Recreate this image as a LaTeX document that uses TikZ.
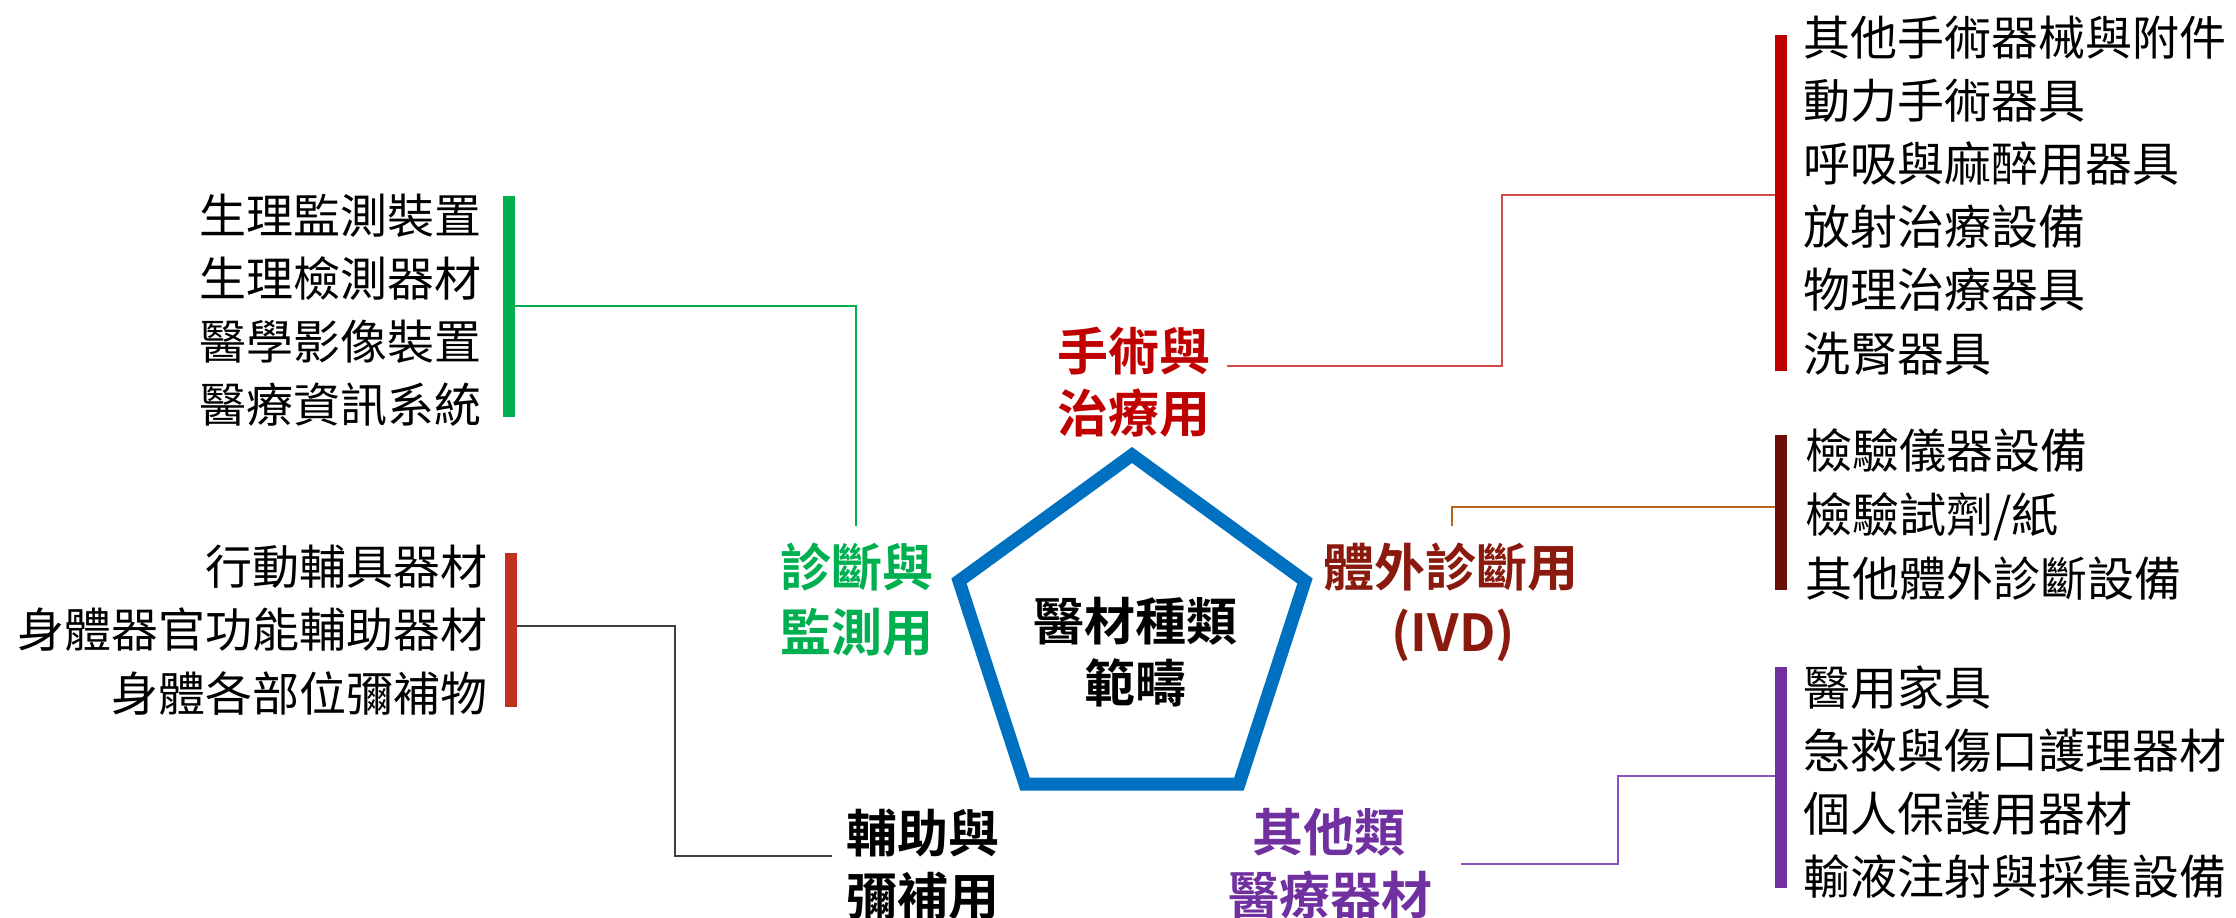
\documentclass[tikz,border=0pt]{standalone}
\usepackage{fontspec}
\setmainfont{Noto Sans CJK TC}[BoldFont={Noto Sans CJK TC Bold}]
\definecolor{pblue}{HTML}{0070C0}
\definecolor{cred}{HTML}{C00000}
\definecolor{credline}{HTML}{D24B4B}
\definecolor{civd}{HTML}{8B1A0E}
\definecolor{civdbar}{HTML}{6A0F08}
\definecolor{civdline}{HTML}{B8651A}
\definecolor{cgreen}{HTML}{00B050}
\definecolor{cpurple}{HTML}{7030A0}
\definecolor{cpline}{HTML}{8A4FC0}
\definecolor{cassist}{HTML}{C0311F}
\definecolor{cgray}{HTML}{404040}
\tikzset{
  itemtext/.style={font=\fontsize{47}{47}\selectfont, inner sep=0pt},
  cattext/.style={font=\bfseries\fontsize{51}{51}\selectfont, inner sep=0pt, anchor=base},
  barline/.style={line width=12.5pt, line cap=butt},
  connline/.style={line width=1.7pt},
}
\begin{document}
\begin{tikzpicture}[x=1pt,y=-1pt]
\useasboundingbox (0,0) rectangle (2236,918);
% pentagon
\draw[pblue, line width=13pt, line join=miter] (1132,455) -- (1305,581) -- (1239,784) -- (1025,784) -- (959,581) -- cycle;
\node[cattext, black] (core1) at (1135,640.5) {醫材種類};
\node[cattext, black] (core2) at (1135,702.5) {範疇};
% categories
\node[cattext, cred] (surg1) at (1134,370.4) {手術與};
\node[cattext, cred] (surg2) at (1134,432.4) {治療用};
\node[cattext, civd] (ivd1) at (1451,586.4) {體外診斷用};
\node[cattext, civd] (ivd2) at (1453,651) {(IVD)};
\node[cattext, cgreen] (diag1) at (857,586.4) {診斷與};
\node[cattext, cgreen] (diag2) at (857,651.4) {監測用};
\node[cattext, black] (assist1) at (923,852.4) {輔助與};
\node[cattext, black] (assist2) at (923,915.4) {彌補用};
\node[cattext, cpurple] (other1) at (1329,851.4) {其他類};
\node[cattext, cpurple] (other2) at (1330,914.4) {醫療器材};
% lists
\foreach \t [count=\i] in {其他手術器械與附件,動力手術器具,呼吸與麻醉用器具,放射治療設備,物理治療器具,洗腎器具}
  \node[itemtext, anchor=base west] (surgitem\i) at (1803,{37+63.2*(\i-1)+18}) {\t};
\foreach \t [count=\i] in {檢驗儀器設備,檢驗試劑/紙,其他體外診斷設備}
  \node[itemtext, anchor=base west] (ivditem\i) at (1805,{450+64*(\i-1)+18}) {\t};
\foreach \t [count=\i] in {醫用家具,急救與傷口護理器材,個人保護用器材,輸液注射與採集設備}
  \node[itemtext, anchor=base west] (otheritem\i) at (1803,{687+63.3*(\i-1)+18}) {\t};
\foreach \t [count=\i] in {生理監測裝置,生理檢測器材,醫學影像裝置,醫療資訊系統}
  \node[itemtext, anchor=base east] (diagitem\i) at (482,{215+63*(\i-1)+18}) {\t};
\foreach \t [count=\i] in {行動輔具器材,身體器官功能輔助器材,身體各部位彌補物}
  \node[itemtext, anchor=base east] (assistitem\i) at (488,{566+63.5*(\i-1)+18}) {\t};
% coordinates
\coordinate (surgC) at (1227,366);
\coordinate (surgB) at (1781,195);
\coordinate (ivdC) at (1452,526);
\coordinate (ivdB) at (1781,507);
\coordinate (otherC) at (1461,864);
\coordinate (otherB) at (1781,776);
\coordinate (diagC) at (856,526);
\coordinate (diagB) at (509,306);
\coordinate (assistC) at (832,856);
\coordinate (assistB) at (511,626);
% connectors
\draw[connline, credline] (surgC) -- (1502,366) -- (1502,195) -- (surgB);
\draw[connline, civdline] (ivdC) -- (1452,507) -- (ivdB);
\draw[connline, cpline] (otherC) -- (1618,864) -- (1618,776) -- (otherB);
\draw[connline, cgreen] (diagC) -- (856,306) -- (diagB);
\draw[connline, cgray] (assistC) -- (675,856) -- (675,626) -- (assistB);
% bars
\coordinate (surgBt) at (1781,35);  \coordinate (surgBb) at (1781,371);
\coordinate (ivdBt) at (1781,435);  \coordinate (ivdBb) at (1781,590);
\coordinate (otherBt) at (1781,667); \coordinate (otherBb) at (1781,888);
\coordinate (diagBt) at (509,196);  \coordinate (diagBb) at (509,417);
\coordinate (assistBt) at (511,553); \coordinate (assistBb) at (511,707);
\draw[barline, cred] (surgBt) -- (surgBb);
\draw[barline, civdbar] (ivdBt) -- (ivdBb);
\draw[barline, cpurple] (otherBt) -- (otherBb);
\draw[barline, cgreen] (diagBt) -- (diagBb);
\draw[barline, cassist] (assistBt) -- (assistBb);
\end{tikzpicture}
\end{document}
